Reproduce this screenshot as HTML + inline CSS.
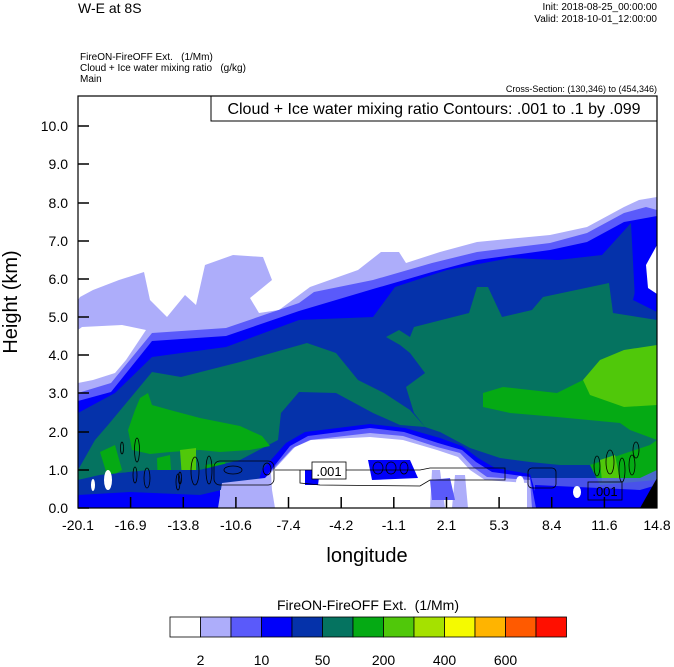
<!DOCTYPE html>
<html><head><meta charset="utf-8"><style>
body{margin:0;background:#fff;}
svg{display:block;font-family:"Liberation Sans",sans-serif;}
</style></head><body>
<svg width="674" height="667" viewBox="0 0 674 667" xmlns="http://www.w3.org/2000/svg">
<text x="78" y="13" font-size="14">W-E at 8S</text>
<text x="657" y="10" font-size="10" text-anchor="end">Init: 2018-08-25_00:00:00</text>
<text x="657" y="22" font-size="10" text-anchor="end">Valid: 2018-10-01_12:00:00</text>
<text x="80" y="60" font-size="10">FireON-FireOFF Ext.&#160;&#160;&#160;(1/Mm)</text>
<text x="80" y="71" font-size="10">Cloud + Ice water mixing ratio&#160;&#160;&#160;(g/kg)</text>
<text x="80" y="82" font-size="10">Main</text>
<text x="657" y="92" font-size="9" text-anchor="end">Cross-Section: (130,346) to (454,346)</text>
<defs><clipPath id="c"><rect x="78" y="96" width="579" height="412"/></clipPath></defs>
<g clip-path="url(#c)">
<rect x="78" y="96" width="579" height="412" fill="#fff"/>
<path fill="#adadfa" d="M78,383 L78,300 L80,297 L93,290 L119,280 L144,272 L150,300 L167,317 L185,295 L196,305 L205,265 L233,255 L263,257 L272,280 L250,298 L259,313 L279,310 L310,287 L358,270 L381,252 L399,252 L406,263 L440,252 L477,242 L550,235 L587,227 L624,207 L639,200 L657,197 L657,508 L78,508 Z"/>
<path fill="#fff" d="M78,330 L82,327 L122,325 L146,330 L126,360 L115,373 L93,380 L78,383 Z"/>
<path fill="#5a5afa" d="M78,393 L111,383 L152,333 L226,328 L299,303 L314,292 L373,280 L432,263 L477,252 L550,243 L587,233 L624,213 L646,207 L657,210 L657,508 L78,508 Z"/>
<path fill="#0000fa" d="M78,401 L111,392 L152,341 L226,336 L299,311 L373,289 L432,272 L477,260 L550,250 L587,242 L624,222 L657,216 L657,508 L78,508 Z"/>
<path fill="#0532aa" d="M78,413 L115,393 L152,357 L226,347 L299,320 L373,317 L395,287 L447,270 L510,258 L558,260 L602,255 L631,223 L635,300 L657,307 L657,508 L78,508 Z"/>
<path fill="#0000fa" d="M633,300 L640,270 L657,262 L657,312 Z"/>
<path fill="#fff" d="M646,265 L657,245 L657,294 L648,288 Z"/>
<path fill="#057360" d="M78,508 L78,470 L95,440 L108,425 L152,372 L181,377 L240,362 L307,343 L336,353 L358,380 L384,393 L410,410 L425,427 L400,425 L373,413 L336,393 L299,392 L281,413 L278,440 L240,460 L200,470 L150,470 L100,475 L78,480 Z"/>
<path fill="#057360" d="M386,337 L399,330 L410,337 L414,327 L469,313 L477,287 L488,287 L502,317 L532,310 L543,297 L609,283 L613,313 L657,320 L657,480 L640,470 L600,465 L560,465 L530,462 L500,458 L470,448 L440,432 L425,427 L414,413 L406,387 L425,373 L410,353 L400,345 Z"/>
<path fill="#05aa14" d="M135,410 L140,398 L148,393 L152,405 L170,410 L200,418 L240,426 L262,436 L270,446 L250,450 L220,452 L200,450 L170,452 L150,454 L132,450 L128,430 Z"/>
<path fill="#05aa14" d="M100,452 L115,445 L122,470 L108,478 Z"/>
<path fill="#05aa14" d="M157,458 L170,455 L172,485 L158,488 Z"/>
<path fill="#50c80a" d="M180,450 L196,448 L196,478 L182,478 Z"/>
<path fill="#05aa14" d="M205,465 L225,462 L228,480 L208,482 Z"/>
<path fill="#05aa14" d="M483,393 L503,387 L557,393 L583,380 L657,360 L657,440 L630,430 L620,423 L557,417 L510,413 L483,407 Z"/>
<path fill="#50c80a" d="M583,380 L600,360 L624,350 L657,345 L657,405 L624,407 L590,395 Z"/>
<path fill="#05aa14" d="M590,465 L620,455 L650,445 L657,440 L657,480 L600,485 Z"/>
<path fill="#50c80a" d="M600,460 L615,455 L620,480 L602,482 Z"/>
<path fill="#0532aa" d="M78,480 L100,475 L150,470 L200,470 L240,460 L260,470 L260,508 L78,508 Z"/>
<path fill="#0000fa" d="M78,495 L130,492 L200,495 L230,488 L230,508 L78,508 Z"/>
<path fill="#5a5afa" d="M520,478 L640,478 L657,470 L657,508 L520,508 Z" opacity="0.8"/>
<path fill="#0000fa" d="M535,485 L640,490 L657,485 L657,508 L535,508 Z"/>
<path fill="#0000fa" d="M250,508 L262,470 L286,443 L305,432 L370,424 L405,428 L440,438 L462,446 L478,458 L495,468 L530,474 L540,508 Z"/>
<path fill="#5a5afa" d="M258,508 L268,474 L290,446 L308,436 L370,428 L404,432 L438,443 L462,450 L476,462 L492,472 L530,477 L536,508 Z"/>
<path fill="#adadfa" d="M218,508 L222,483 L265,478 L293,448 L310,440 L370,433 L403,436 L437,447 L460,453 L473,467 L487,477 L530,480 L532,508 Z"/>
<path fill="#fff" d="M271,473 L295,447 L311,440 L370,437 L403,440 L437,450 L458,457 L470,470 L485,480 L527,483 L527,508 L275,508 L272,490 Z"/>
<path fill="#adadfa" d="M220,490 L270,488 L272,508 L220,508 Z"/>
<path fill="#adadfa" d="M432,470 L440,470 L445,508 L430,508 Z"/>
<path fill="#adadfa" d="M455,475 L465,475 L468,508 L452,508 Z"/>
<path fill="#5a5afa" d="M430,480 L450,478 L455,500 L432,500 Z"/>
<path fill="#0000fa" d="M368,460 L410,460 L418,478 L372,480 Z"/>
<path fill="#0000fa" d="M305,470 L320,470 L318,485 L305,485 Z"/>
<path fill="#000" d="M640,508 L657,478 L657,508 Z"/>
<ellipse cx="108" cy="480" rx="4" ry="10" fill="#fff"/>
<ellipse cx="93" cy="485" rx="2" ry="6" fill="#fff"/>
<ellipse cx="520" cy="482" rx="4" ry="6" fill="#fff"/>
<ellipse cx="577" cy="492" rx="4" ry="6" fill="#fff"/>
</g>
<g fill="none" stroke="#000" stroke-width="0.8">
<ellipse cx="122" cy="448" rx="1.5" ry="6"/><ellipse cx="137" cy="450" rx="2.5" ry="12"/>
<ellipse cx="135" cy="475" rx="2" ry="8"/><ellipse cx="147" cy="478" rx="3" ry="10"/>
<ellipse cx="178" cy="482" rx="2" ry="8"/><ellipse cx="180" cy="478" rx="1.5" ry="6"/>
<ellipse cx="195" cy="471" rx="4" ry="14"/><ellipse cx="209" cy="470" rx="3" ry="14"/>
<rect x="214" y="461" width="60" height="24" rx="6"/><ellipse cx="233" cy="470" rx="9" ry="4"/>
<ellipse cx="267" cy="469" rx="4" ry="6"/>
<path d="M275,470 L300,470 L300,483 L320,485 L420,486 L430,480 L505,480 L505,468 L430,468 L420,470 L300,470"/>
<ellipse cx="378" cy="468" rx="5" ry="6"/><ellipse cx="391" cy="468" rx="5" ry="6"/><ellipse cx="404" cy="468" rx="4" ry="6"/>
<rect x="528" y="468" width="28" height="20" rx="4"/>
<ellipse cx="597" cy="466" rx="3" ry="10"/><ellipse cx="610" cy="462" rx="4" ry="12"/><ellipse cx="622" cy="470" rx="3" ry="12"/><ellipse cx="632" cy="465" rx="3" ry="10"/><ellipse cx="636" cy="450" rx="3" ry="8"/>
</g>
<rect x="312" y="462" width="34" height="17" fill="#fff" stroke="#000" stroke-width="0.8"/>
<text x="329" y="476" font-size="13" text-anchor="middle">.001</text>
<rect x="588" y="482" width="34" height="18" fill="none" stroke="#000" stroke-width="0.8"/>
<text x="605" y="496" font-size="13" text-anchor="middle">.001</text>
<rect x="211" y="96" width="446" height="25" fill="#fff" stroke="#000"/>
<text x="434" y="114" font-size="16" text-anchor="middle">Cloud + Ice water mixing ratio Contours: .001 to .1 by .099</text>
<rect x="78" y="96" width="579" height="412" fill="none" stroke="#000" stroke-width="1.2"/>
<g stroke="#000" stroke-width="1.5">
<line x1="78" y1="508" x2="89" y2="508"/><line x1="78" y1="470" x2="89" y2="470"/><line x1="78" y1="432" x2="89" y2="432"/><line x1="78" y1="393" x2="89" y2="393"/><line x1="78" y1="355" x2="89" y2="355"/><line x1="78" y1="317" x2="89" y2="317"/><line x1="78" y1="279" x2="89" y2="279"/><line x1="78" y1="241" x2="89" y2="241"/><line x1="78" y1="203" x2="89" y2="203"/><line x1="78" y1="164" x2="89" y2="164"/><line x1="78" y1="126" x2="89" y2="126"/>
<line x1="130.6" y1="508" x2="130.6" y2="497"/><line x1="183.3" y1="508" x2="183.3" y2="497"/><line x1="235.9" y1="508" x2="235.9" y2="497"/><line x1="288.5" y1="508" x2="288.5" y2="497"/><line x1="341.2" y1="508" x2="341.2" y2="497"/><line x1="393.8" y1="508" x2="393.8" y2="497"/><line x1="446.5" y1="508" x2="446.5" y2="497"/><line x1="499.1" y1="508" x2="499.1" y2="497"/><line x1="551.7" y1="508" x2="551.7" y2="497"/><line x1="604.4" y1="508" x2="604.4" y2="497"/>
</g>
<g font-size="14" text-anchor="end">
<text x="68" y="513">0.0</text><text x="68" y="475">1.0</text><text x="68" y="437">2.0</text><text x="68" y="398">3.0</text><text x="68" y="360">4.0</text><text x="68" y="322">5.0</text><text x="68" y="284">6.0</text><text x="68" y="246">7.0</text><text x="68" y="208">8.0</text><text x="68" y="169">9.0</text><text x="68" y="131">10.0</text>
</g>
<g font-size="14" text-anchor="middle">
<text x="78" y="530">-20.1</text><text x="130.6" y="530">-16.9</text><text x="183.3" y="530">-13.8</text><text x="235.9" y="530">-10.6</text><text x="288.5" y="530">-7.4</text><text x="341.2" y="530">-4.2</text><text x="393.8" y="530">-1.1</text><text x="446.5" y="530">2.1</text><text x="499.1" y="530">5.3</text><text x="551.7" y="530">8.4</text><text x="604.4" y="530">11.6</text><text x="657" y="530">14.8</text>
</g>
<text x="367" y="562" font-size="20" text-anchor="middle">longitude</text>
<text transform="translate(17,302) rotate(-90)" font-size="20" text-anchor="middle">Height (km)</text>
<text x="368" y="610" font-size="14" text-anchor="middle">FireON-FireOFF Ext.&#160;&#160;(1/Mm)</text>
<g stroke="#000" stroke-width="0.8">
<rect x="170" y="617" width="30.5" height="20" fill="#fff"/>
<rect x="200.5" y="617" width="30.5" height="20" fill="#adadfa"/>
<rect x="231" y="617" width="30.5" height="20" fill="#5a5afa"/>
<rect x="261.5" y="617" width="30.5" height="20" fill="#0000fa"/>
<rect x="292" y="617" width="30.5" height="20" fill="#0532aa"/>
<rect x="322.5" y="617" width="30.5" height="20" fill="#057360"/>
<rect x="353" y="617" width="30.5" height="20" fill="#05aa14"/>
<rect x="383.5" y="617" width="30.5" height="20" fill="#50c80a"/>
<rect x="414" y="617" width="30.5" height="20" fill="#a5e100"/>
<rect x="444.5" y="617" width="30.5" height="20" fill="#f5fa00"/>
<rect x="475" y="617" width="30.5" height="20" fill="#ffb400"/>
<rect x="505.5" y="617" width="30.5" height="20" fill="#ff5a00"/>
<rect x="536" y="617" width="30.5" height="20" fill="#ff0f00"/>
</g>
<g font-size="14" text-anchor="middle">
<text x="200.5" y="665">2</text><text x="261.5" y="665">10</text><text x="322.5" y="665">50</text><text x="383.5" y="665">200</text><text x="444.5" y="665">400</text><text x="505.5" y="665">600</text>
</g>
</svg>
</body></html>
